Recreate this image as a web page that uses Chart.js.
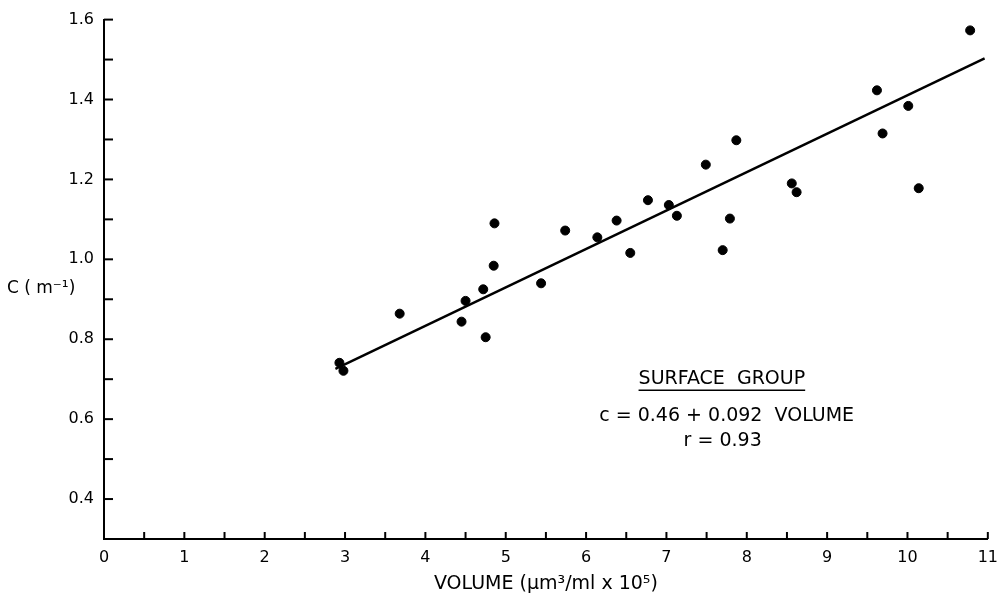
<!DOCTYPE html>
<html>
<head>
<meta charset="utf-8">
<script src="https://cdn.jsdelivr.net/npm/chart.js@4.4.1/dist/chart.umd.min.js"></script>
<style>
html, body { margin: 0; padding: 0; background: #fff; }
#wrap { width: 1007px; height: 599px; }
</style>
</head>
<body>
<div id="wrap"><canvas id="myChart"></canvas></div>
<script>
// points
var volume = [2.93, 2.98, 3.68, 4.45, 4.50, 4.75, 4.72, 4.85, 4.86, 5.44,
	5.74, 6.14, 6.38, 6.55, 6.77, 7.03, 7.13, 7.49, 7.70, 7.79,
	7.87, 8.56, 8.62, 9.62, 9.69, 10.01, 10.14, 10.78];
var cValue = [0.741, 0.721, 0.864, 0.844, 0.896, 0.805, 0.925, 0.984, 1.090, 0.940,
	1.072, 1.055, 1.097, 1.016, 1.148, 1.136, 1.109, 1.237, 1.023, 1.102,
	1.298, 1.190, 1.168, 1.423, 1.315, 1.384, 1.178, 1.573];

// regression line as drawn
var fitVolume = [2.88, 10.96];
var fitC = [0.726, 1.503];

var xTickLabels = ['0', '1', '2', '3', '4', '5', '6', '7', '8', '9', '10', '11'];
var yTickLabels = ['0.4', '0.6', '0.8', '1.0', '1.2', '1.4', '1.6'];

var FONT = '"DejaVu Sans", sans-serif';

function toPoints(xs, ys) {
	var out = [];
	for (var i = 0; i < xs.length; i++) out.push({x: xs[i], y: ys[i]});
	return out;
}

// ticks pointing into the plot + the free texts
var innerTicks = {
	id: 'innerTicks',
	afterDraw: function(chart) {
		var ctx = chart.ctx, xs = chart.scales.x, ys = chart.scales.y, a = chart.chartArea;
		ctx.save();
		ctx.strokeStyle = '#000';
		ctx.lineWidth = 2;
		xs.ticks.forEach(function(t) {
			if (t.value <= 0) return;
			var px = xs.getPixelForValue(t.value);
			ctx.beginPath();
			ctx.moveTo(px, a.bottom);
			ctx.lineTo(px, a.bottom - 7);
			ctx.stroke();
		});
		ys.ticks.forEach(function(t) {
			if (t.value < 0.35) return;
			var py = ys.getPixelForValue(t.value);
			ctx.beginPath();
			ctx.moveTo(a.left, py);
			ctx.lineTo(a.left + 9, py);
			ctx.stroke();
		});

		ctx.fillStyle = '#000';
		ctx.textBaseline = 'middle';
		ctx.textAlign = 'left';
		ctx.font = '17px ' + FONT;
		ctx.fillText('C ( m\u207B\u00B9)', 7, 289);

		ctx.textAlign = 'center';
		var cx = xs.getPixelForValue(7.69);
		var y1 = ys.getPixelForValue(0.70);
		ctx.font = '19px ' + FONT;
		ctx.fillText('SURFACE  GROUP', cx, y1);
		var w = ctx.measureText('SURFACE  GROUP').width;
		ctx.lineWidth = 1.5;
		ctx.beginPath();
		ctx.moveTo(cx - w / 2, y1 + 11);
		ctx.lineTo(cx + w / 2, y1 + 11);
		ctx.stroke();
		ctx.fillText('c = 0.46 + 0.092  VOLUME', xs.getPixelForValue(7.75), ys.getPixelForValue(0.607));
		ctx.fillText('r = 0.93', xs.getPixelForValue(7.70), ys.getPixelForValue(0.544));
		ctx.restore();
	}
};

var config = {
	type: 'scatter',
	data: {
		datasets: [{
			label: 'Surface group',
			data: toPoints(volume, cValue),
			backgroundColor: '#000',
			borderColor: '#000',
			pointRadius: 4.5,
			pointHoverRadius: 4.5,
			clip: false
		}, {
			type: 'line',
			label: 'fit',
			data: toPoints(fitVolume, fitC),
			borderColor: '#000',
			borderWidth: 2.5,
			pointRadius: 0,
			fill: false,
			clip: false
		}]
	},
	options: {
		responsive: false,
		animation: false,
		layout: { padding: { top: 15, right: 10, left: 0, bottom: 0 } },
		plugins: { legend: { display: false }, tooltip: { enabled: false } },
		scales: {
			x: {
				type: 'linear',
				min: 0, max: 11,
				grid: { display: false, drawTicks: false },
				border: { display: true, color: '#000', width: 2 },
				ticks: {
					stepSize: 0.5, autoSkip: false, maxRotation: 0, padding: 9,
					color: '#000', font: { family: FONT, size: 16 },
					callback: function(v) {
						var r = Math.round(v);
						return Math.abs(v - r) < 1e-6 ? xTickLabels[r] : '';
					}
				},
				title: {
					display: true, text: 'VOLUME (\u03BCm\u00B3/ml x 10\u2075)', color: '#000',
					font: { family: FONT, size: 19 }, padding: { top: 0, bottom: 4 }
				},
				afterFit: function(s) { s.height = 60; }
			},
			y: {
				type: 'linear',
				min: 0.3, max: 1.6,
				grid: { display: false, drawTicks: false },
				border: { display: true, color: '#000', width: 2 },
				ticks: {
					stepSize: 0.1, autoSkip: false, padding: 10,
					color: '#000', font: { family: FONT, size: 16 },
					callback: function(v) {
						var k = (v - 0.4) / 0.2;
						var r = Math.round(k);
						return (Math.abs(k - r) < 1e-6 && r >= 0) ? yTickLabels[r] : '';
					}
				},
				afterFit: function(s) { s.width = 104; }
			}
		}
	},
	plugins: [innerTicks]
};

var canvas = document.getElementById('myChart');
canvas.width = 1007;
canvas.height = 599;
window.myChart = new Chart(canvas.getContext('2d'), config);
</script>
</body>
</html>
